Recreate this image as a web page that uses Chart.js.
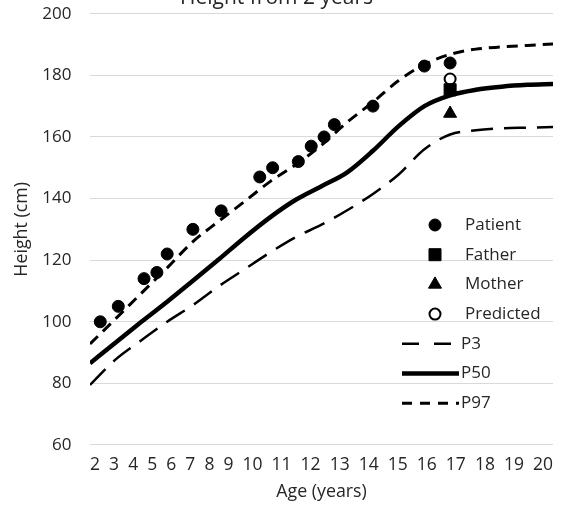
<!DOCTYPE html>
<html>
<head>
<meta charset="utf-8">
<script src="https://cdn.jsdelivr.net/npm/chart.js@4.4.1/dist/chart.umd.min.js"></script>
<style>
  html, body { margin: 0; padding: 0; background: #fff; }
  #wrap { position: relative; width: 566px; height: 506px; overflow: hidden; }
  /* canvas is a bit taller and pushed up so the title is clipped like the original */
  #growthChart { position: absolute; left: 0; top: -15px; }
</style>
</head>
<body>
<div id="wrap"><canvas id="growthChart" width="566" height="521"></canvas></div>
<script>
// Reference curves, read at whole years
const refAges = [2, 3, 4, 5, 6, 7, 8, 9, 10, 11, 12, 13, 14, 15, 16, 17, 18, 19, 20];
const p3 = [79.5, 87.8, 94, 100, 105.4, 111.5, 117, 122.5, 127.5, 131.5, 136.2, 141.5, 147.8, 156, 160.8, 162.2, 162.8, 163, 163.2];
const p50 = [86.5, 93.3, 100, 106.5, 113.3, 120.2, 127.3, 133.9, 139.6, 144, 148.5, 155.5, 163.5, 170, 173.5, 175.3, 176.3, 176.9, 177.2];
const p97 = [92.8, 101, 109.3, 117.5, 126, 132.6, 139, 145.5, 151, 157.3, 164.8, 171.3, 178.3, 183.5, 186.8, 188.5, 189.2, 189.7, 190.2];

// Patient measurements
const patientAges = [2.4, 3.1, 4.1, 4.6, 5.0, 6.0, 7.1, 8.6, 9.1, 10.1, 10.6, 11.1, 11.5, 13.0, 15.0, 16.0];
const patientHeights = [100, 105, 114, 116, 122, 130, 136, 147, 150, 152, 157, 160, 164, 170, 183, 184];

// Parents and prediction, all shown at the same age
const parentAge = 16.0;
const fatherHeight = 175.3;
const motherHeight = 167.6;
const predictedHeight = 178.8;

// Axis labels
const xTickLabels = ['2', '3', '4', '5', '6', '7', '8', '9', '10', '11', '12', '13', '14', '15', '16', '17', '18', '19', '20'];
const yTicks = [60, 80, 100, 120, 140, 160, 180, 200];

const textColor = '#262626';
const fontFamily = '"Open Sans", "Noto Sans", sans-serif';

function toPoints(xs, ys) {
    return xs.map((x, i) => ({ x: x, y: ys[i] }));
}

// Legend drawn inside the plot, on the right
const insideLegend = {
    id: 'insideLegend',
    afterDraw(chart) {
        const ctx = chart.ctx;
        const top = 240;   // canvas coords (page y + 15)
        const step = 29.7;
        ctx.save();
        ctx.font = '17px ' + fontFamily;
        ctx.textBaseline = 'middle';
        chart.data.datasets.forEach((ds, i) => {
            const y = top + i * step;
            ctx.save();
            if (ds.showLine) {
                ctx.strokeStyle = ds.borderColor;
                ctx.lineWidth = ds.borderWidth;
                ctx.setLineDash(ds.legendDash || []);
                ctx.beginPath();
                ctx.moveTo(402, y);
                ctx.lineTo(459, y);
                ctx.stroke();
                ctx.restore();
                ctx.fillStyle = textColor;
                ctx.fillText(ds.label, 461, y);
            } else {
                ctx.fillStyle = ds.pointBackgroundColor;
                ctx.strokeStyle = ds.pointBorderColor;
                ctx.lineWidth = ds.pointBorderWidth;
                Chart.helpers.drawPoint(ctx, {
                    pointStyle: ds.pointStyle,
                    radius: ds.pointRadius,
                    borderWidth: ds.pointBorderWidth,
                    rotation: 0
                }, 435, y);
                ctx.restore();
                ctx.fillStyle = textColor;
                ctx.fillText(ds.label, 465, y);
            }
        });
        ctx.restore();
    }
};

function drawChart() {
    const ctx = document.getElementById('growthChart');
    new Chart(ctx, {
        type: 'scatter',
        data: {
            datasets: [
                {
                    label: 'Patient',
                    data: toPoints(patientAges, patientHeights),
                    pointStyle: 'circle',
                    pointRadius: 6,
                    pointBackgroundColor: '#000',
                    pointBorderColor: '#000',
                    pointBorderWidth: 1
                },
                {
                    label: 'Father',
                    data: [{ x: parentAge, y: fatherHeight }],
                    pointStyle: 'rect',
                    pointRadius: 8.5,
                    pointBackgroundColor: '#000',
                    pointBorderColor: '#000',
                    pointBorderWidth: 1
                },
                {
                    label: 'Mother',
                    data: [{ x: parentAge, y: motherHeight }],
                    pointStyle: 'triangle',
                    pointRadius: 7.5,
                    pointBackgroundColor: '#000',
                    pointBorderColor: '#000',
                    pointBorderWidth: 1
                },
                {
                    label: 'Predicted',
                    data: [{ x: parentAge, y: predictedHeight }],
                    pointStyle: 'circle',
                    pointRadius: 5.5,
                    pointBackgroundColor: '#fff',
                    pointBorderColor: '#000',
                    pointBorderWidth: 2
                },
                {
                    label: 'P3',
                    data: toPoints(refAges, p3),
                    showLine: true,
                    borderColor: '#000',
                    borderWidth: 2.5,
                    borderDash: [22, 11],
                    legendDash: [17, 15],
                    pointRadius: 0,
                    cubicInterpolationMode: 'monotone'
                },
                {
                    label: 'P50',
                    data: toPoints(refAges, p50),
                    showLine: true,
                    borderColor: '#000',
                    borderWidth: 4.5,
                    pointRadius: 0,
                    cubicInterpolationMode: 'monotone'
                },
                {
                    label: 'P97',
                    data: toPoints(refAges, p97),
                    showLine: true,
                    borderColor: '#000',
                    borderWidth: 3,
                    borderDash: [11, 7],
                    legendDash: [10, 8],
                    pointRadius: 0,
                    cubicInterpolationMode: 'monotone'
                }
            ]
        },
        options: {
            responsive: false,
            animation: false,
            devicePixelRatio: 1,
            layout: {
                padding: { left: 0, right: 13, top: 0, bottom: 0 }
            },
            plugins: {
                legend: { display: false },
                tooltip: { enabled: false },
                title: {
                    display: true,
                    text: 'Height from 2 years',
                    color: textColor,
                    font: { family: fontFamily, size: 21, weight: 'normal' },
                    padding: { top: 0, bottom: 2.8 }
                }
            },
            scales: {
                x: {
                    type: 'linear',
                    min: 2,
                    max: 20,
                    grid: { display: false, drawTicks: false },
                    border: { display: false },
                    ticks: { display: false },
                    title: {
                        display: true,
                        // tick labels are set as a spaced line above the axis name
                        text: [xTickLabels.join('  '), 'Age (years)'],
                        color: textColor,
                        font: { family: fontFamily, size: 17.8, lineHeight: 1.517 },
                        padding: { top: 6.5, bottom: 0.5 }
                    }
                },
                y: {
                    type: 'linear',
                    min: yTicks[0],
                    max: yTicks[yTicks.length - 1],
                    afterBuildTicks: (scale) => {
                        scale.ticks = yTicks.map(v => ({ value: v }));
                    },
                    afterFit: (scale) => {
                        scale.width = 90;
                    },
                    grid: { color: '#d9d9d9', lineWidth: 1, drawTicks: false },
                    border: { display: false },
                    ticks: {
                        color: textColor,
                        padding: 18.5,
                        font: { family: fontFamily, size: 17 }
                    },
                    title: {
                        display: true,
                        text: 'Height (cm)',
                        color: textColor,
                        font: { family: fontFamily, size: 17.8, lineHeight: 1.2 },
                        padding: { top: 11.3, bottom: 0 }
                    }
                }
            }
        },
        plugins: [insideLegend]
    });
}

if (document.fonts && document.fonts.load) {
    document.fonts.load('17px "Open Sans"').then(drawChart, drawChart);
} else {
    drawChart();
}
</script>
</body>
</html>
